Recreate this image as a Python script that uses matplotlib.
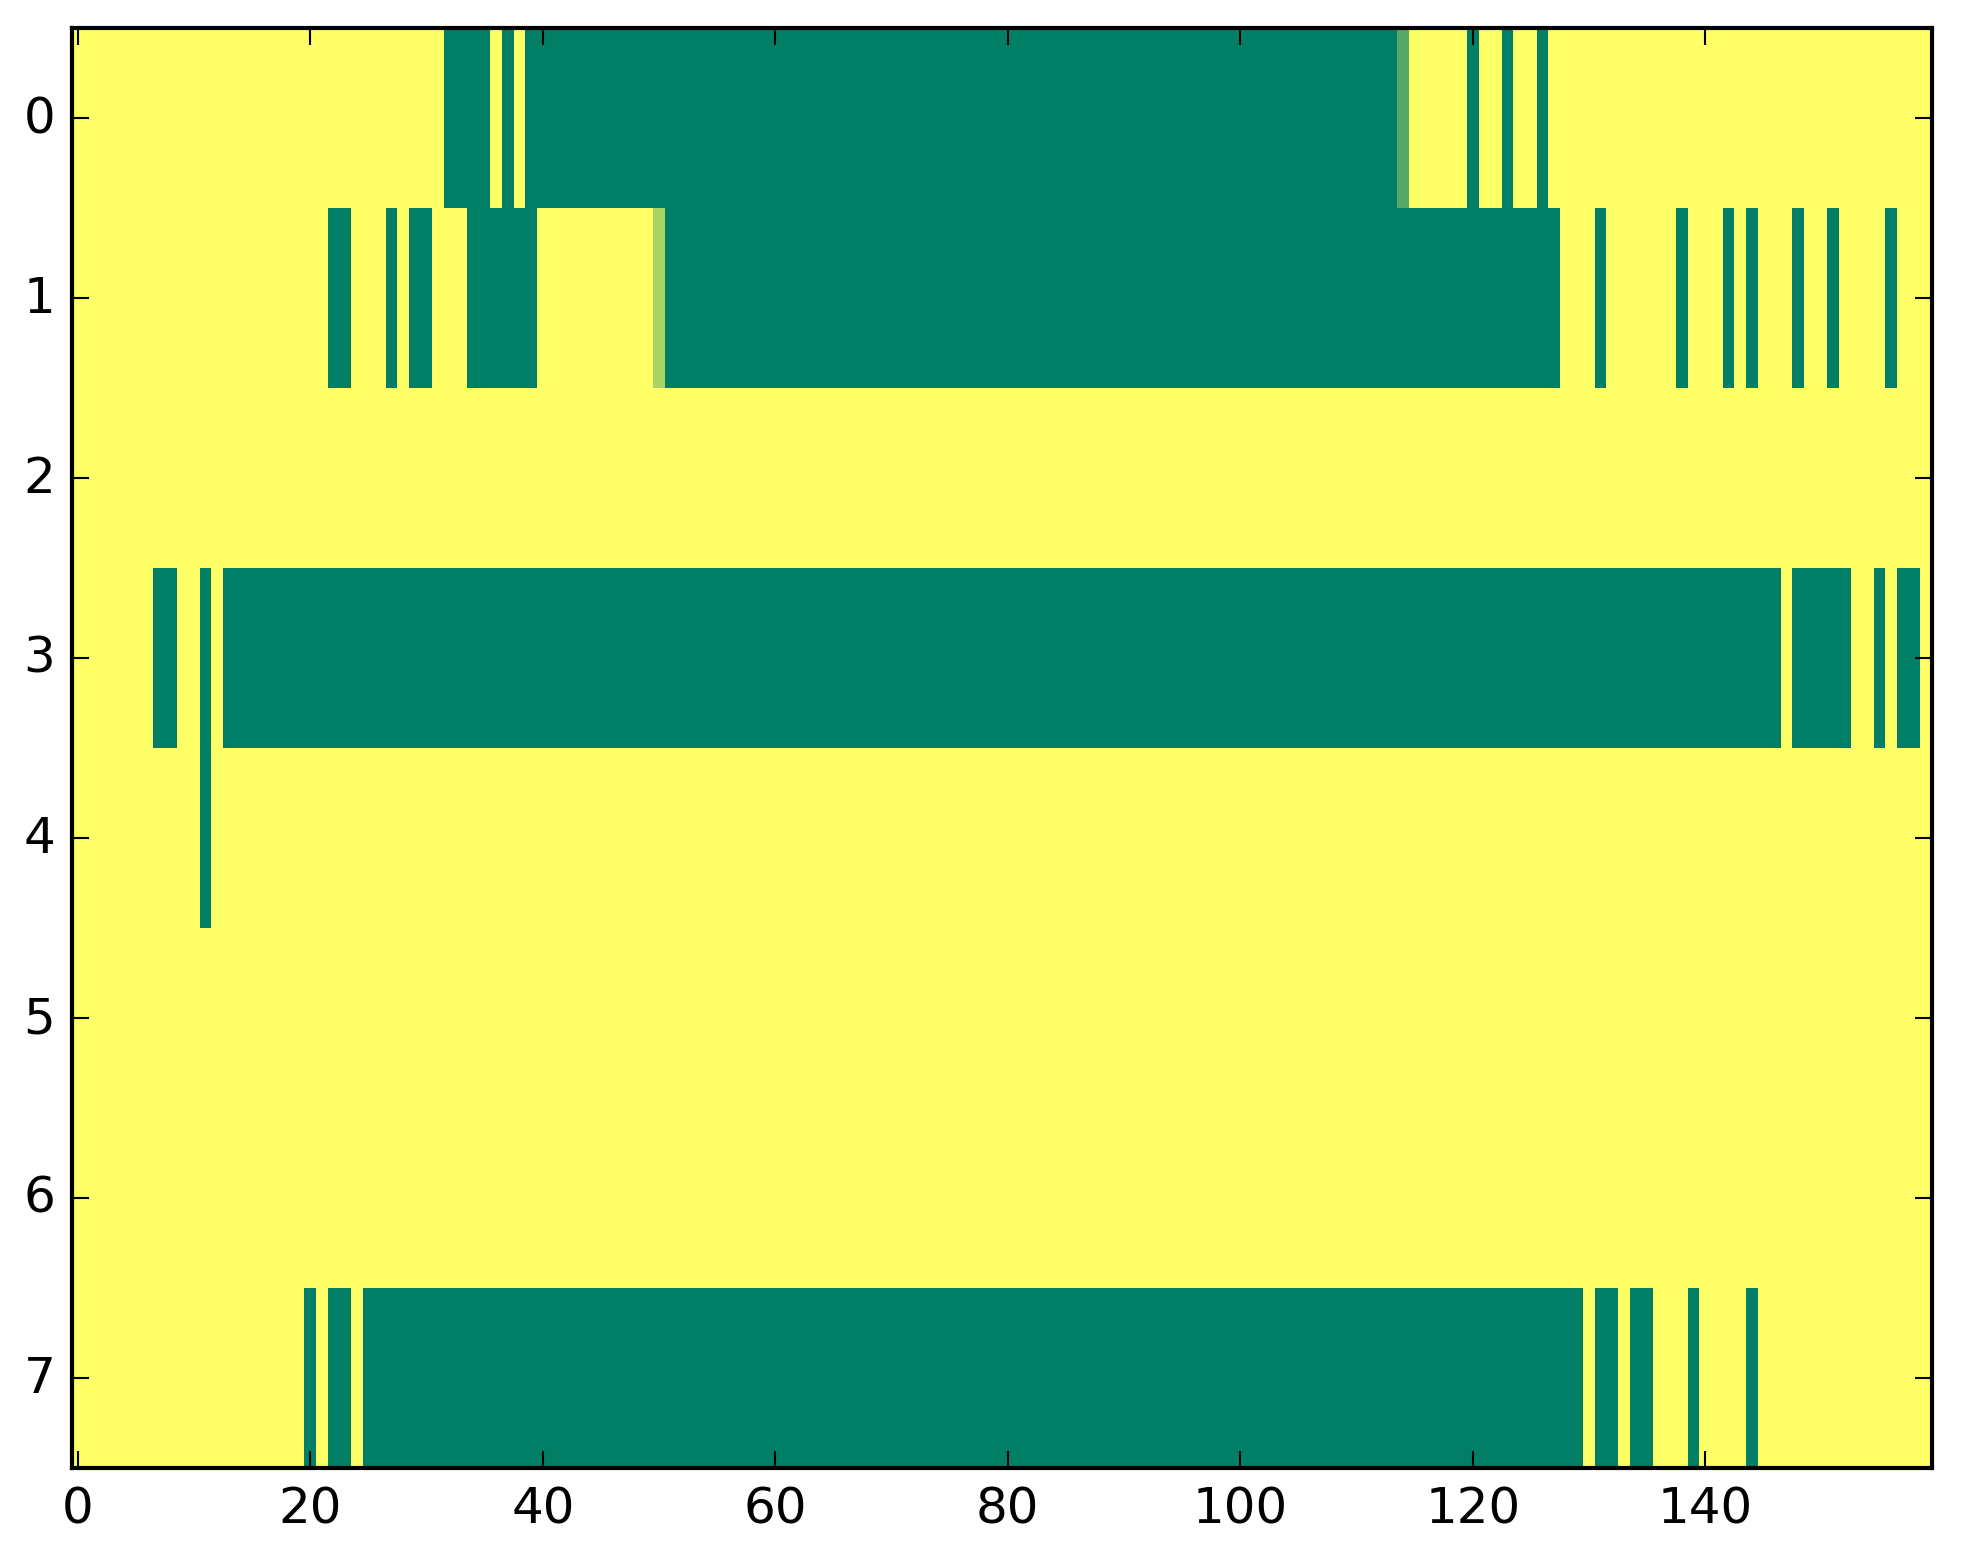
import numpy as np
import matplotlib
matplotlib.use("Agg")
import matplotlib.pyplot as plt

plt.style.use("classic")

# Each row as run-length pairs (value, count); 1 = yellow, 0 = dark green
row0 = [(1, 32), (0, 4), (1, 1), (0, 1), (1, 1), (0, 75), (0.33, 1), (1, 5),
        (0, 1), (1, 2), (0, 1), (1, 2), (0, 1), (1, 33)]
row1 = [(1, 22), (0, 2), (1, 3), (0, 1), (1, 1), (0, 2), (1, 3), (0, 6), (1, 10),
        (0.67, 1), (0, 77), (1, 3), (0, 1), (1, 6), (0, 1), (1, 3), (0, 1), (1, 1),
        (0, 1), (1, 3), (0, 1), (1, 2), (0, 1), (1, 4), (0, 1), (1, 3)]
row2 = [(1, 160)]
row3 = [(1, 7), (0, 2), (1, 2), (0, 1), (1, 1), (0, 134), (1, 1), (0, 5), (1, 2),
        (0, 1), (1, 1), (0, 2), (1, 1)]
row4 = [(1, 11), (0, 1), (1, 148)]
row5 = [(1, 160)]
row6 = [(1, 160)]
row7 = [(1, 20), (0, 1), (1, 1), (0, 2), (1, 1), (0, 105), (1, 1), (0, 2), (1, 1),
        (0, 2), (1, 3), (0, 1), (1, 4), (0, 1), (1, 15)]

rows = [row0, row1, row2, row3, row4, row5, row6, row7]


def expand(runs):
    vals = [v for v, n in runs]
    counts = [n for v, n in runs]
    return np.repeat(np.array(vals, dtype=float), counts)


matrix = np.vstack([expand(r) for r in rows])

W, H, DPI = 1963, 1564, 300
fig = plt.figure(figsize=(W / DPI, H / DPI), dpi=DPI, facecolor="white")
ax = fig.add_axes([72 / W, (H - 1469) / H, 1860 / W, 1440 / H])
ax.imshow(matrix, cmap="summer", interpolation="nearest", aspect="auto",
          vmin=0, vmax=1)
ax.set_xticks([0, 20, 40, 60, 80, 100, 120, 140])
ax.set_yticks(range(8))
fig.savefig("out.png", dpi=DPI, facecolor="white")
